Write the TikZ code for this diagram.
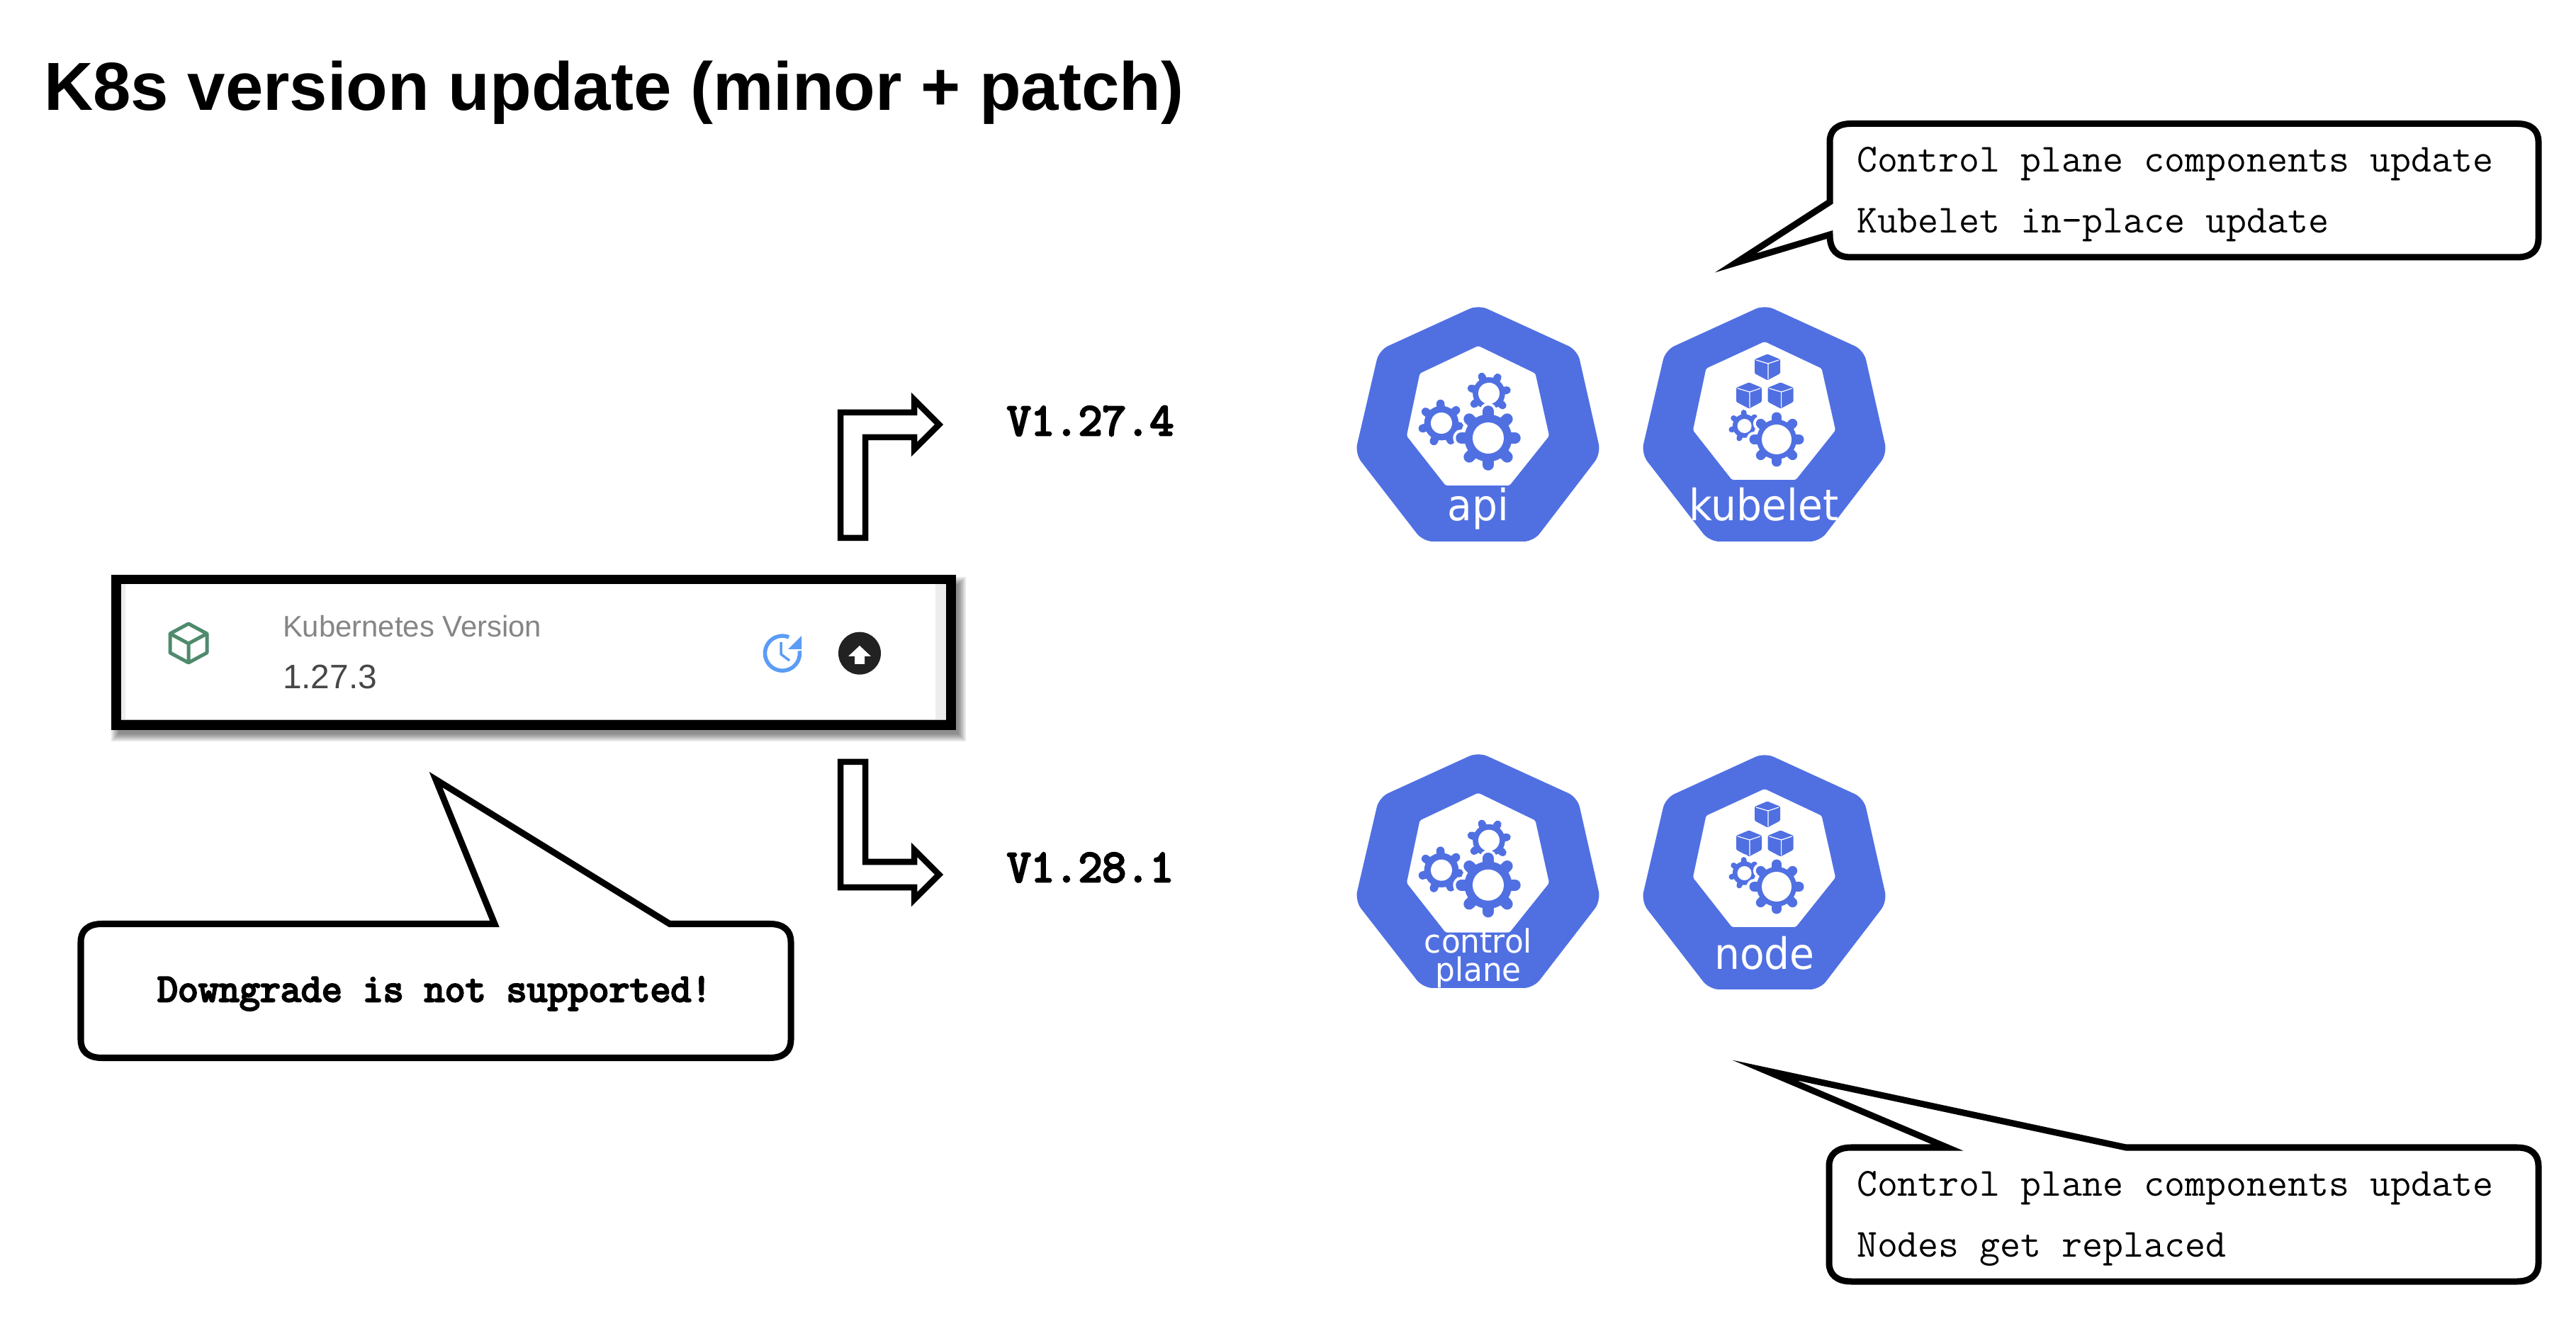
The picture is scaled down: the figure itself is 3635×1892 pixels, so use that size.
\documentclass[tikz,border=0pt]{standalone}
\usepackage{fontspec}
\setmainfont{Liberation Sans}
\newfontfamily\dejavu{DejaVu Sans}
\newfontfamily\lmmb[FakeBold=4.5]{Latin Modern Mono}
\usetikzlibrary{calc}
\definecolor{kblue}{HTML}{5070E2}
\definecolor{kgreen}{HTML}{4F8A6D}
\definecolor{kclock}{HTML}{5B9CF6}
\definecolor{kdark}{HTML}{222222}
\tikzset{
  txt/.style={inner sep=0pt,outer sep=0pt,anchor=base west},
  ctxt/.style={inner sep=0pt,outer sep=0pt,anchor=base},
  monotxt/.style={txt,font=\ttfamily\fontsize{16}{19}\selectfont},
  monobold/.style={txt,font=\lmmb\fontsize{16}{19}\selectfont},
  vertxt/.style={txt,font=\lmmb\fontsize{18.55}{21}\selectfont},
  klabel/.style={ctxt,text=white,font=\dejavu\fontsize{17.35}{20}\selectfont},
  klabelsm/.style={ctxt,text=white,font=\dejavu\fontsize{13}{15}\selectfont},
  callout/.style={draw=black,fill=white,line width=0.09cm,miter limit=30,line join=miter},
  fatarrow/.style={draw=black,fill=white,line width=0.085cm,miter limit=10,line join=miter},
}
% gear: cx cy outer hole teeth rotation
\newcommand{\kgear}[6]{%
  \begin{scope}[shift={(#1,#2)}]
    \fill[white] (0,0) circle ({#3*0.8+4});
    \foreach \k in {1,...,#5}{%
      \draw[white,line width={#3*0.0036cm+0.08cm},line cap=round] (0,0) -- ({#6+\k*360/#5}:{#3*0.86});
    }
    \fill[kblue] (0,0) circle ({#3*0.76});
    \foreach \k in {1,...,#5}{%
      \draw[kblue,line width={#3*0.0036cm},line cap=round] (0,0) -- ({#6+\k*360/#5}:{#3*0.86});
    }
    \fill[white] (0,0) circle (#4);
  \end{scope}}
\newcommand{\kcube}[2]{%
  \begin{scope}[shift={(#1,#2)}]
    \fill[kblue,rounded corners=0.015cm] (0,-18.5) -- (18,-11) -- (18,9) -- (0,18.5) -- (-18,9) -- (-18,-11) -- cycle;
    \draw[white,line width=0.012cm] (-16,-10) -- (1,-5) -- (16,-10) (1,-5) -- (1,17);
  \end{scope}}
\begin{document}
\begin{tikzpicture}[x=0.01cm,y=-0.01cm]
\useasboundingbox (0,0) rectangle (3635,1892);
\fill[white] (0,0) rectangle (3635,1892);

\node[txt,font=\bfseries\fontsize{27.3}{32}\selectfont] (title) at (62,156) {K8s version update (minor + patch)};

% version box shadow
\foreach \e in {7,5,3,1,-1,-3}{%
  \fill[black,opacity=0.09] ({157+7-\e},{811+10-\e}) rectangle ({1349+7+\e},{1029+10+\e});
}
\fill[white] (164,817) rectangle (1342,1023);
\fill[black!7] (171,824) rectangle (177,1016);
\fill[black!7] (1320,824) rectangle (1335,1016);
\draw[black!30,line width=0.01cm] (171,1016) -- (1335,1016);
\draw[black,line width=0.135cm,line join=miter] (164,817.5) rectangle (1342,1023);

% cube icon
\draw[kgreen,line width=0.05cm,line join=round] (266,880) -- (292,894) -- (292,921) -- (266,935) -- (240,921) -- (240,894) -- cycle
  (240,894) -- (266,908) -- (292,894) (266,908) -- (266,935);
\node[txt,text=black!48,font=\fontsize{11.9}{14}\selectfont] (kver) at (399,899) {Kubernetes Version};
\node[txt,text=black!72,font=\fontsize{13.6}{16}\selectfont] (kval) at (399,972) {1.27.3};

% clock icon
\draw[kclock,line width=0.055cm] plot[domain=-8:292,samples=50] ({1104+24.5*cos(\x)},{921.7+24.5*sin(\x)});
\fill[kclock] (1131,897) -- (1131,916) -- (1112,916) -- cycle;
\draw[kclock,line width=0.035cm] (1102,906) -- (1102,923) -- (1114,932);

% upgrade icon
\fill[kdark] (1213,921.7) circle (30);
\fill[white] (1213,911) -- (1229,926) -- (1220,926) -- (1220,937) -- (1206,937) -- (1206,926) -- (1197,926) -- cycle;

% fat arrows
\draw[fatarrow] (1186,759) -- (1186,582) -- (1290,582) -- (1290,564) -- (1325,599) -- (1290,634) -- (1290,617) -- (1221,617) -- (1221,759) -- cycle;
\draw[fatarrow] (1186,1075) -- (1186,1252) -- (1290,1252) -- (1290,1269) -- (1325,1234) -- (1290,1199) -- (1290,1216) -- (1221,1216) -- (1221,1075) -- cycle;

\node[vertxt] (vone) at (1421,614) {V1.27.4};
\node[vertxt] (vtwo) at (1421,1244) {V1.28.1};

% API
\fill[kblue,rounded corners=0.14cm] (2086,430) -- (2226,494) -- (2259,640) -- (2164,764) -- (2008,764) -- (1912,640) -- (1946,494) -- cycle;
\fill[white,rounded corners=0.02cm] (2086,488) -- (2166.5,527) -- (2186,615) -- (2130,685) -- (2040,685) -- (1985,615) -- (2003.5,527) -- cycle;
\kgear{2034}{597}{32}{15}{7}{10}
\kgear{2101}{555}{30}{15}{7}{-10}
\kgear{2100}{618}{44}{22}{8}{0}
\node[klabel] (api) at (2086,735) {\scalebox{0.93}[1]{api}};

% kubelet
\fill[kblue,rounded corners=0.14cm] (2490,430) -- (2630,494) -- (2663,640) -- (2568,764) -- (2412,764) -- (2316,640) -- (2350,494) -- cycle;
\fill[white,rounded corners=0.02cm] (2490,482) -- (2570.5,520) -- (2590,607) -- (2534,677) -- (2444,677) -- (2389,607) -- (2407.5,520) -- cycle;
\kcube{2494}{518}
\kcube{2468}{558}
\kcube{2512.6}{558}
\kgear{2461.6}{601}{22}{10}{7}{10}
\kgear{2507}{620}{37}{21}{8}{0}
\node[klabel] (kubelet) at (2489,735) {\scalebox{0.93}[1]{kubelet}};

% control plane
\fill[kblue,rounded corners=0.14cm] (2086,1061) -- (2226,1125) -- (2259,1271) -- (2164,1394) -- (2008,1394) -- (1912,1271) -- (1946,1125) -- cycle;
\fill[white,rounded corners=0.02cm] (2086,1118.7) -- (2166.5,1157.7) -- (2186,1245.7) -- (2130,1315.7) -- (2040,1315.7) -- (1985,1245.7) -- (2003.5,1157.7) -- cycle;
\kgear{2034}{1227.7}{32}{15}{7}{10}
\kgear{2101}{1185.7}{30}{15}{7}{-10}
\kgear{2100}{1248.7}{44}{22}{8}{0}
\node[klabelsm] (control) at (2086,1345) {\scalebox{0.96}[1]{control}};
\node[klabelsm] (plane) at (2086,1384) {\scalebox{0.96}[1]{plane}};

% node
\fill[kblue,rounded corners=0.14cm] (2490,1062) -- (2630,1126) -- (2663,1272) -- (2568,1396) -- (2412,1396) -- (2316,1272) -- (2350,1126) -- cycle;
\fill[white,rounded corners=0.02cm] (2490,1113) -- (2570.5,1151) -- (2590,1238) -- (2534,1308) -- (2444,1308) -- (2389,1238) -- (2407.5,1151) -- cycle;
\kcube{2494}{1149}
\kcube{2468}{1190}
\kcube{2512.6}{1190}
\kgear{2461.6}{1232}{22}{10}{7}{10}
\kgear{2507}{1251}{37}{21}{8}{0}
\node[klabel] (nodelbl) at (2490,1367) {\scalebox{0.93}[1]{node}};

% callout top right
\draw[callout] (2612,174.5) -- (3552,174.5) .. controls (3572,174.5) and (3582,184) .. (3582,200)
  -- (3582,337) .. controls (3582,353) and (3572,363) .. (3552,363)
  -- (2612,363) .. controls (2592,363) and (2582,353) .. (2582,331)
  -- (2449,371) -- (2582,285)
  -- (2582,200) .. controls (2582,184) and (2592,174.5) .. (2612,174.5) -- cycle;
\node[monotxt] (t1a) at (2620,242.5) {Control plane components update};
\node[monotxt] (t1b) at (2620,328.5) {Kubelet in-place update};

% callout bottom right
\draw[callout] (2612,1619) -- (2748,1619) -- (2490,1510) -- (3000,1619)
  -- (3552,1619) .. controls (3572,1619) and (3582,1629) .. (3582,1645)
  -- (3582,1782) .. controls (3582,1798) and (3572,1808) .. (3552,1808)
  -- (2612,1808) .. controls (2592,1808) and (2581,1798) .. (2581,1782)
  -- (2581,1645) .. controls (2581,1629) and (2592,1619) .. (2612,1619) -- cycle;
\node[monotxt] (t2a) at (2620,1687) {Control plane components update};
\node[monotxt] (t2b) at (2620,1773.5) {Nodes get replaced};

% callout bottom left
\draw[callout] (144,1303.5) -- (698,1303.5) -- (615,1100) -- (945,1303.5)
  -- (1086,1303.5) .. controls (1106,1303.5) and (1116,1313) .. (1116,1329)
  -- (1116,1467) .. controls (1116,1483) and (1106,1492.5) .. (1086,1492.5)
  -- (144,1492.5) .. controls (124,1492.5) and (114,1483) .. (114,1467)
  -- (114,1329) .. controls (114,1313) and (124,1303.5) .. (144,1303.5) -- cycle;
\node[monobold] (t3) at (222,1413) {Downgrade is not supported!};
\end{tikzpicture}
\end{document}
